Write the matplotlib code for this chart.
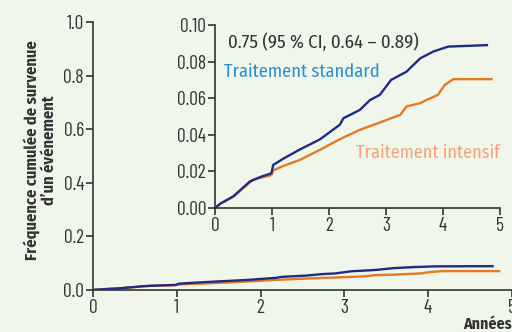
import numpy as np
import matplotlib
matplotlib.use('Agg')
import matplotlib.pyplot as plt

# years / cumulative event frequency
t_std = [0, 0.1, 0.32, 0.61, 0.8, 0.99, 1.02, 1.2, 1.49, 1.84, 2.19, 2.25, 2.54,
         2.72, 2.89, 3.09, 3.36, 3.6, 3.83, 4.09, 4.77]
v_std = [0, 0.0025, 0.0063, 0.0145, 0.017, 0.019, 0.0235, 0.027, 0.032, 0.0375,
         0.0455, 0.049, 0.0536, 0.059, 0.0618, 0.070, 0.0745, 0.0818, 0.0855,
         0.0882, 0.089]
t_int = [0, 0.1, 0.32, 0.67, 0.99, 1.02, 1.2, 1.49, 1.84, 2.19, 2.54, 2.89, 3.25,
         3.36, 3.6, 3.71, 3.91, 4.03, 4.18, 4.85]
v_int = [0, 0.0025, 0.0063, 0.0155, 0.018, 0.0205, 0.023, 0.0263, 0.0318, 0.0376,
         0.0427, 0.0467, 0.0509, 0.0555, 0.0573, 0.059, 0.0618, 0.0672, 0.0704,
         0.0704]

main_yticks = [0.0, 0.2, 0.4, 0.6, 0.8, 1.0]
inset_yticks = [0.00, 0.02, 0.04, 0.06, 0.08, 0.10]
xticks = [0, 1, 2, 3, 4, 5]

bg = '#f1f6ea'
c_std = '#1f2b86'
c_int = '#e47a22'
ink = '#333333'

plt.rcParams['font.family'] = ['Barlow Condensed', 'DejaVu Sans']
txtfont = ['Fira Sans Condensed', 'DejaVu Sans']

fig = plt.figure(figsize=(5.12, 3.32), dpi=100, facecolor=bg)

def style(ax):
    ax.set_facecolor(bg)
    for s in ['top', 'right']:
        ax.spines[s].set_visible(False)
    for s in ['left', 'bottom']:
        ax.spines[s].set_color(ink)
        ax.spines[s].set_linewidth(1.2)
    ax.tick_params(colors=ink, labelcolor=ink, length=5, width=1.2,
                   labelsize=14, pad=1.5)

ax = fig.add_axes([0.1816, 0.1265, 0.818, 0.8072])
style(ax)
ax.plot(t_std, v_std, color=c_std, lw=1.7, zorder=3)
ax.plot(t_int, v_int, color=c_int, lw=1.7, zorder=2)
ax.set_xlim(0, 5)
ax.set_ylim(0, 1)
ax.set_xticks(xticks)
ax.set_yticks(main_yticks)
ax.set_yticklabels(['%.1f' % v for v in main_yticks])

ins = fig.add_axes([0.42, 0.3735, 0.5566, 0.5512])
style(ins)
ins.plot(t_std, v_std, color=c_std, lw=1.7, zorder=3)
ins.plot(t_int, v_int, color=c_int, lw=1.7, zorder=2)
ins.set_xlim(0, 5)
ins.set_ylim(0, 0.1)
ins.set_xticks(xticks)
ins.set_yticks(inset_yticks)
ins.set_yticklabels(['%.2f' % v for v in inset_yticks])

ins.text(0.23, 0.0905, '0.75 (95 % CI, 0.64 – 0.89)', color=ink, fontsize=13.5,
         va='center', ha='left', family=txtfont)
ins.text(0.16, 0.0745, 'Traitement standard', color='#2b8ed4', fontsize=13.3,
         va='center', ha='left', family=txtfont)
ins.text(5.0, 0.0300, 'Traitement intensif', color='#f5a27c', fontsize=13.1,
         va='center', ha='right', family=txtfont)

fig.text(0.078, 0.548, 'Fréquence cumulée de survenue\nd\u2019un événement',
         rotation=90, ha='center', va='center', multialignment='center',
         fontsize=11.8, fontweight='bold', color=ink, family=txtfont,
         linespacing=1.1)
fig.text(0.999, 0.022, 'Années', ha='right', va='center', fontsize=11.5,
         fontweight='bold', color=ink, family=txtfont)

fig.savefig('out.png', dpi=100, facecolor=bg)
